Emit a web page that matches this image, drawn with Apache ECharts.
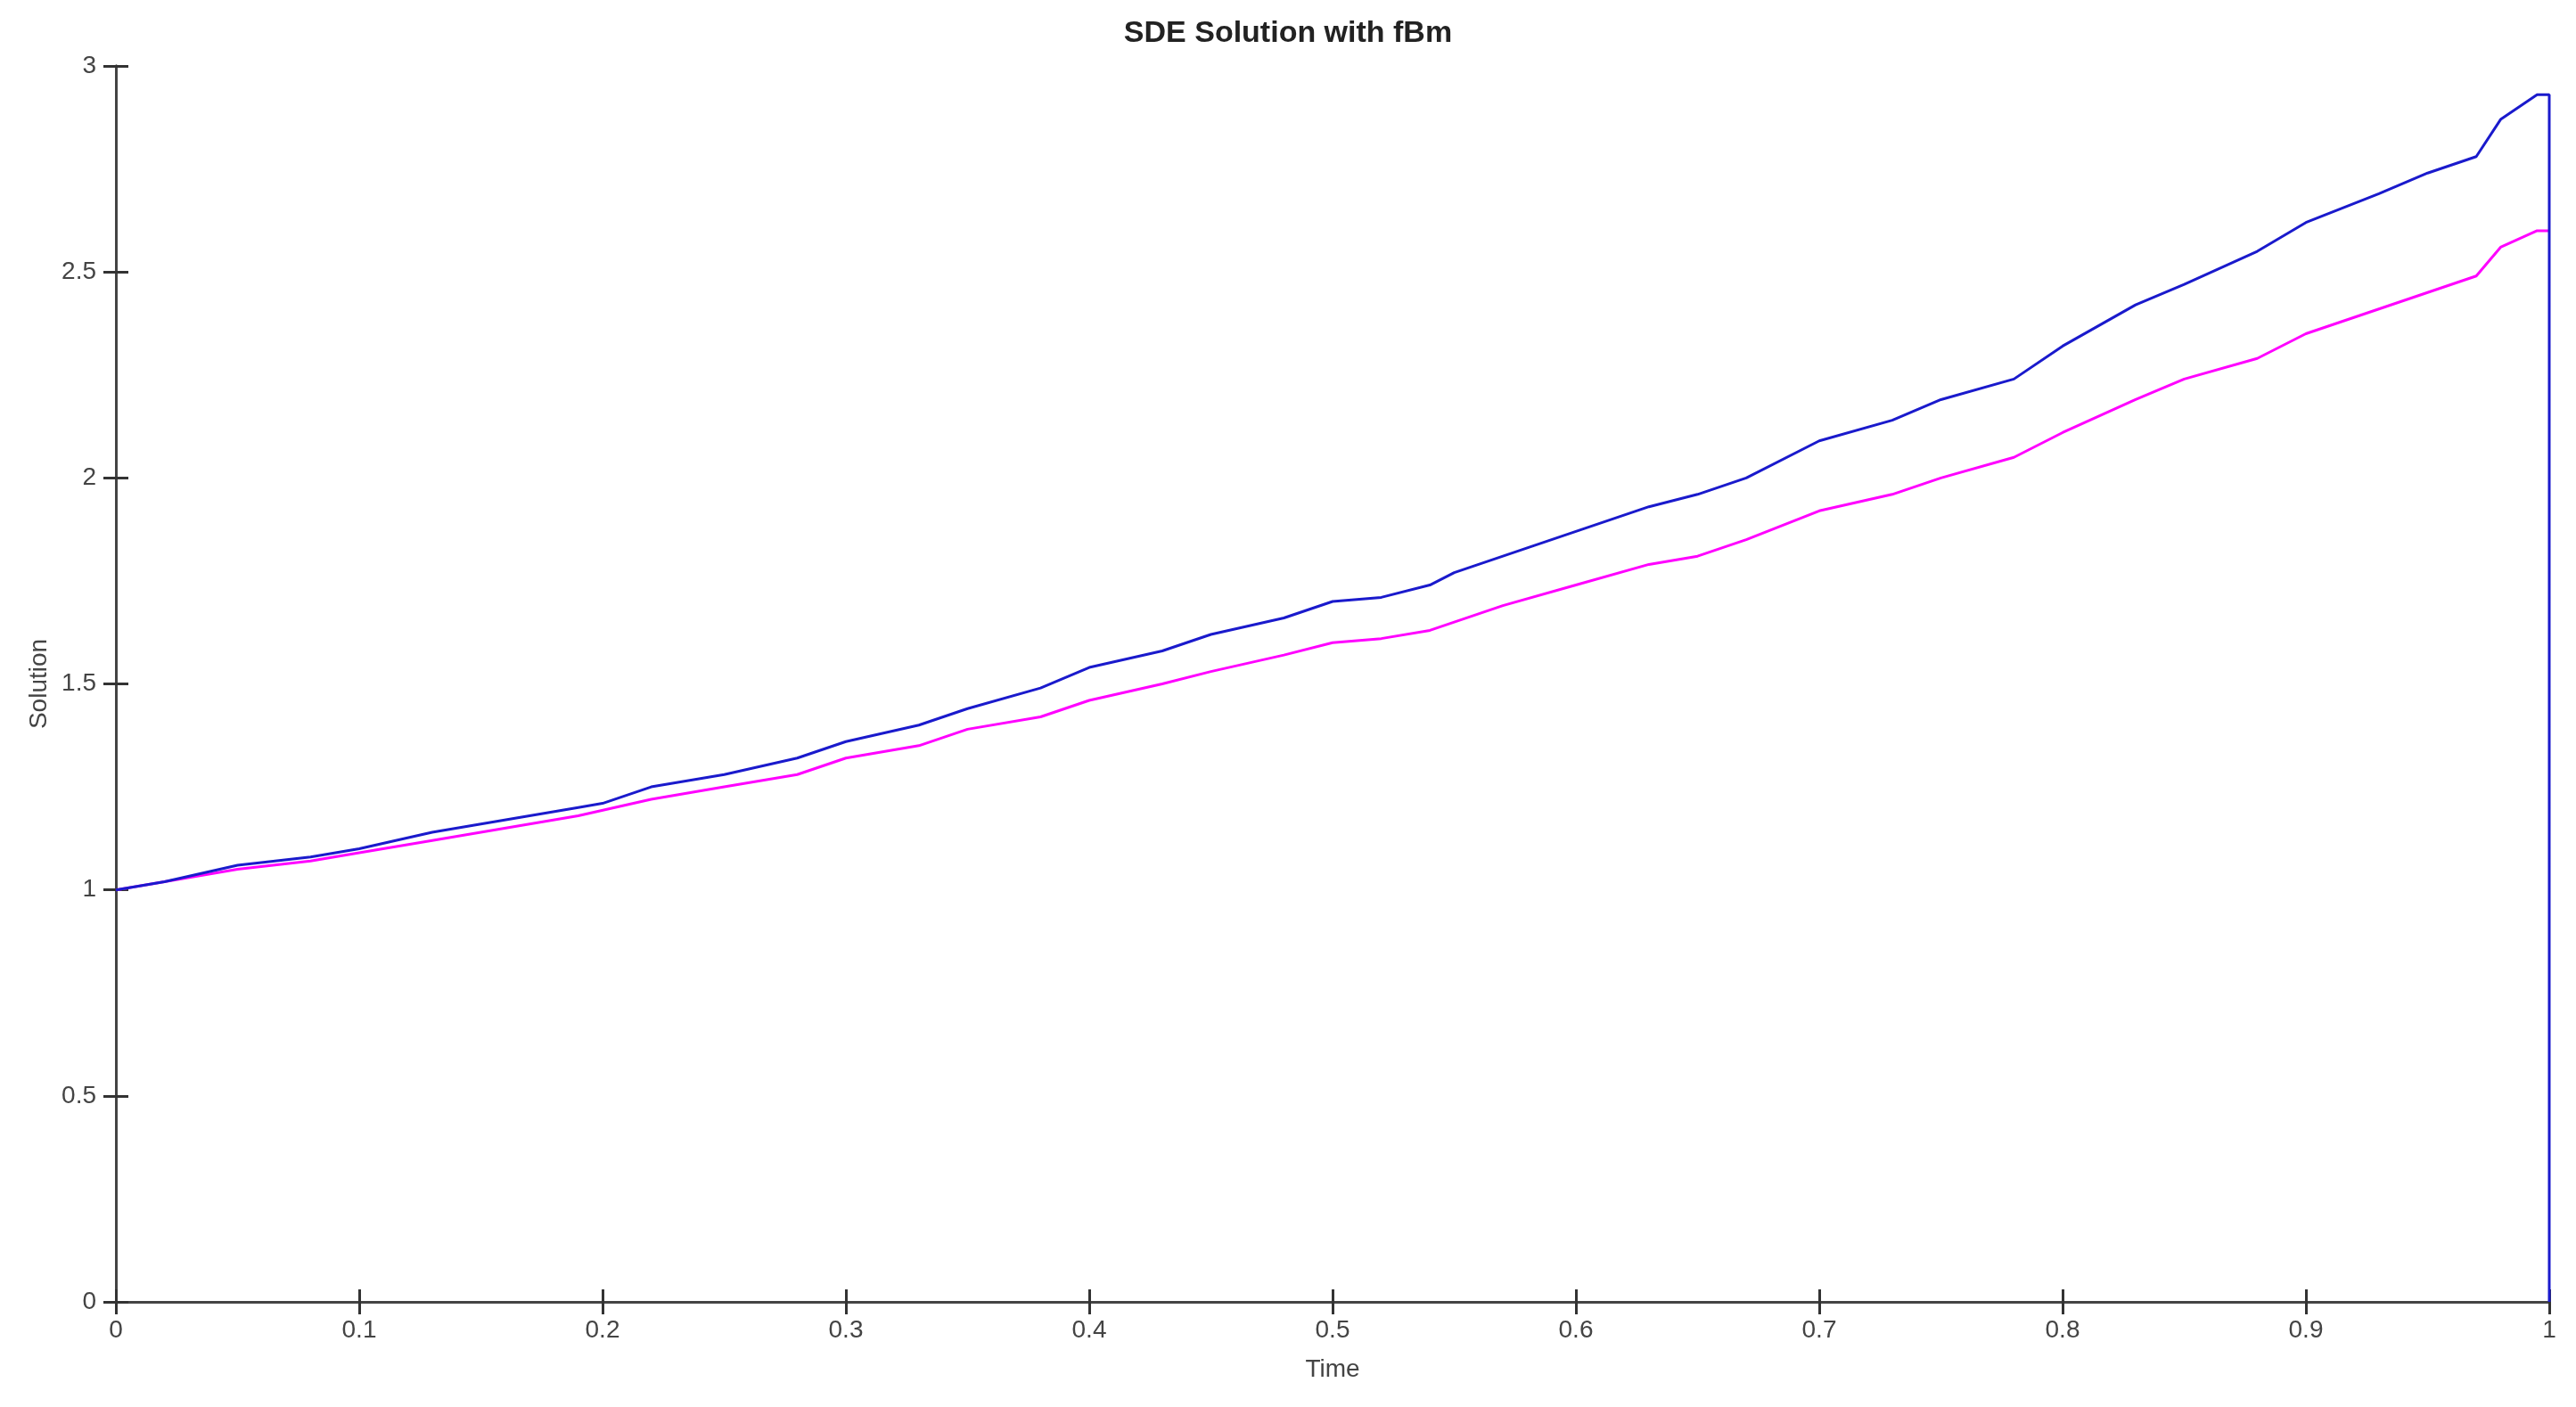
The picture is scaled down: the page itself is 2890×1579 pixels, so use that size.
<!DOCTYPE html>
<html><head><meta charset="utf-8">
<script src="https://cdn.jsdelivr.net/npm/echarts@6/dist/echarts.min.js"></script>
<style>html,body{margin:0;background:#fff}#c{width:2890px;height:1579px}</style>
</head><body><div id="c"></div>
<script>
const blueT = [0, 0.02, 0.05, 0.08, 0.1, 0.13, 0.15, 0.19, 0.2, 0.22, 0.25, 0.28, 0.3, 0.33, 0.35, 0.38, 0.4, 0.43, 0.45, 0.48, 0.5, 0.52, 0.54, 0.55, 0.58, 0.6, 0.63, 0.65, 0.67, 0.7, 0.73, 0.75, 0.78, 0.8, 0.83, 0.85, 0.88, 0.9, 0.93, 0.95, 0.97, 0.98, 0.995, 1, 1]
const blueY = [1.0, 1.02, 1.06, 1.08, 1.1, 1.14, 1.16, 1.2, 1.21, 1.25, 1.28, 1.32, 1.36, 1.4, 1.44, 1.49, 1.54, 1.58, 1.62, 1.66, 1.70, 1.71, 1.74, 1.77, 1.83, 1.87, 1.93, 1.96, 2.0, 2.09, 2.14, 2.19, 2.24, 2.32, 2.42, 2.47, 2.55, 2.62, 2.69, 2.74, 2.78, 2.87, 2.93, 2.93, 0]
const pinkT = [0, 0.02, 0.05, 0.08, 0.1, 0.13, 0.15, 0.19, 0.22, 0.25, 0.28, 0.3, 0.33, 0.35, 0.38, 0.4, 0.43, 0.45, 0.48, 0.5, 0.52, 0.54, 0.57, 0.6, 0.63, 0.65, 0.67, 0.7, 0.73, 0.75, 0.78, 0.8, 0.83, 0.85, 0.88, 0.9, 0.93, 0.95, 0.97, 0.98, 0.995, 1]
const pinkY = [1.0, 1.02, 1.05, 1.07, 1.09, 1.12, 1.14, 1.18, 1.22, 1.25, 1.28, 1.32, 1.35, 1.39, 1.42, 1.46, 1.50, 1.53, 1.57, 1.60, 1.61, 1.63, 1.69, 1.74, 1.79, 1.81, 1.85, 1.92, 1.96, 2.0, 2.05, 2.11, 2.19, 2.24, 2.29, 2.35, 2.41, 2.45, 2.49, 2.56, 2.6, 2.6]

const axisLab = { color: '#444', fontSize: 28, fontFamily: 'Liberation Sans' }
const tick = { show: true, inside: true, length: 14, lineStyle: { color: '#333', width: 3 } }
const line = { show: true, lineStyle: { color: '#444', width: 3 } }
const chart = echarts.init(document.getElementById('c'))
chart.setOption({
  animation: false,
  title: { text: 'SDE Solution with fBm', left: 'center', top: 16,
    textStyle: { fontSize: 34, fontWeight: 'bold', color: '#222', fontFamily: 'Liberation Sans' } },
  grid: { left: 130, right: 30, top: 74, bottom: 118 },
  xAxis: [{
    type: 'value', min: 0, max: 1, interval: 0.1, name: 'Time', nameLocation: 'middle', nameGap: 62,
    nameTextStyle: axisLab, axisLine: line, axisTick: tick,
    axisLabel: { ...axisLab, margin: 18, formatter: v => String(+v.toFixed(1)) },
    splitLine: { show: false }
  }, {
    type: 'value', position: 'top', min: 0, max: 1, interval: 0.1,
    axisLine: line, axisTick: tick, axisLabel: { show: false }, splitLine: { show: false }
  }],
  yAxis: [{
    type: 'value', min: 0, max: 3, interval: 0.5, name: 'Solution', nameLocation: 'middle', nameGap: 72,
    nameTextStyle: axisLab, axisLine: line, axisTick: tick,
    axisLabel: { ...axisLab, margin: 22 },
    splitLine: { show: false }
  }, {
    type: 'value', position: 'right', min: 0, max: 3, interval: 0.5,
    axisLine: line, axisTick: tick, axisLabel: { show: false }, splitLine: { show: false }
  }],
  series: [
    { type: 'line', data: pinkT.map((t, i) => [t, pinkY[i]]), showSymbol: false,
      lineStyle: { color: '#ff00ff', width: 3 } },
    { type: 'line', data: blueT.map((t, i) => [t, blueY[i]]), showSymbol: false,
      lineStyle: { color: '#1a1acc', width: 3 } }
  ]
})
</script></body></html>
